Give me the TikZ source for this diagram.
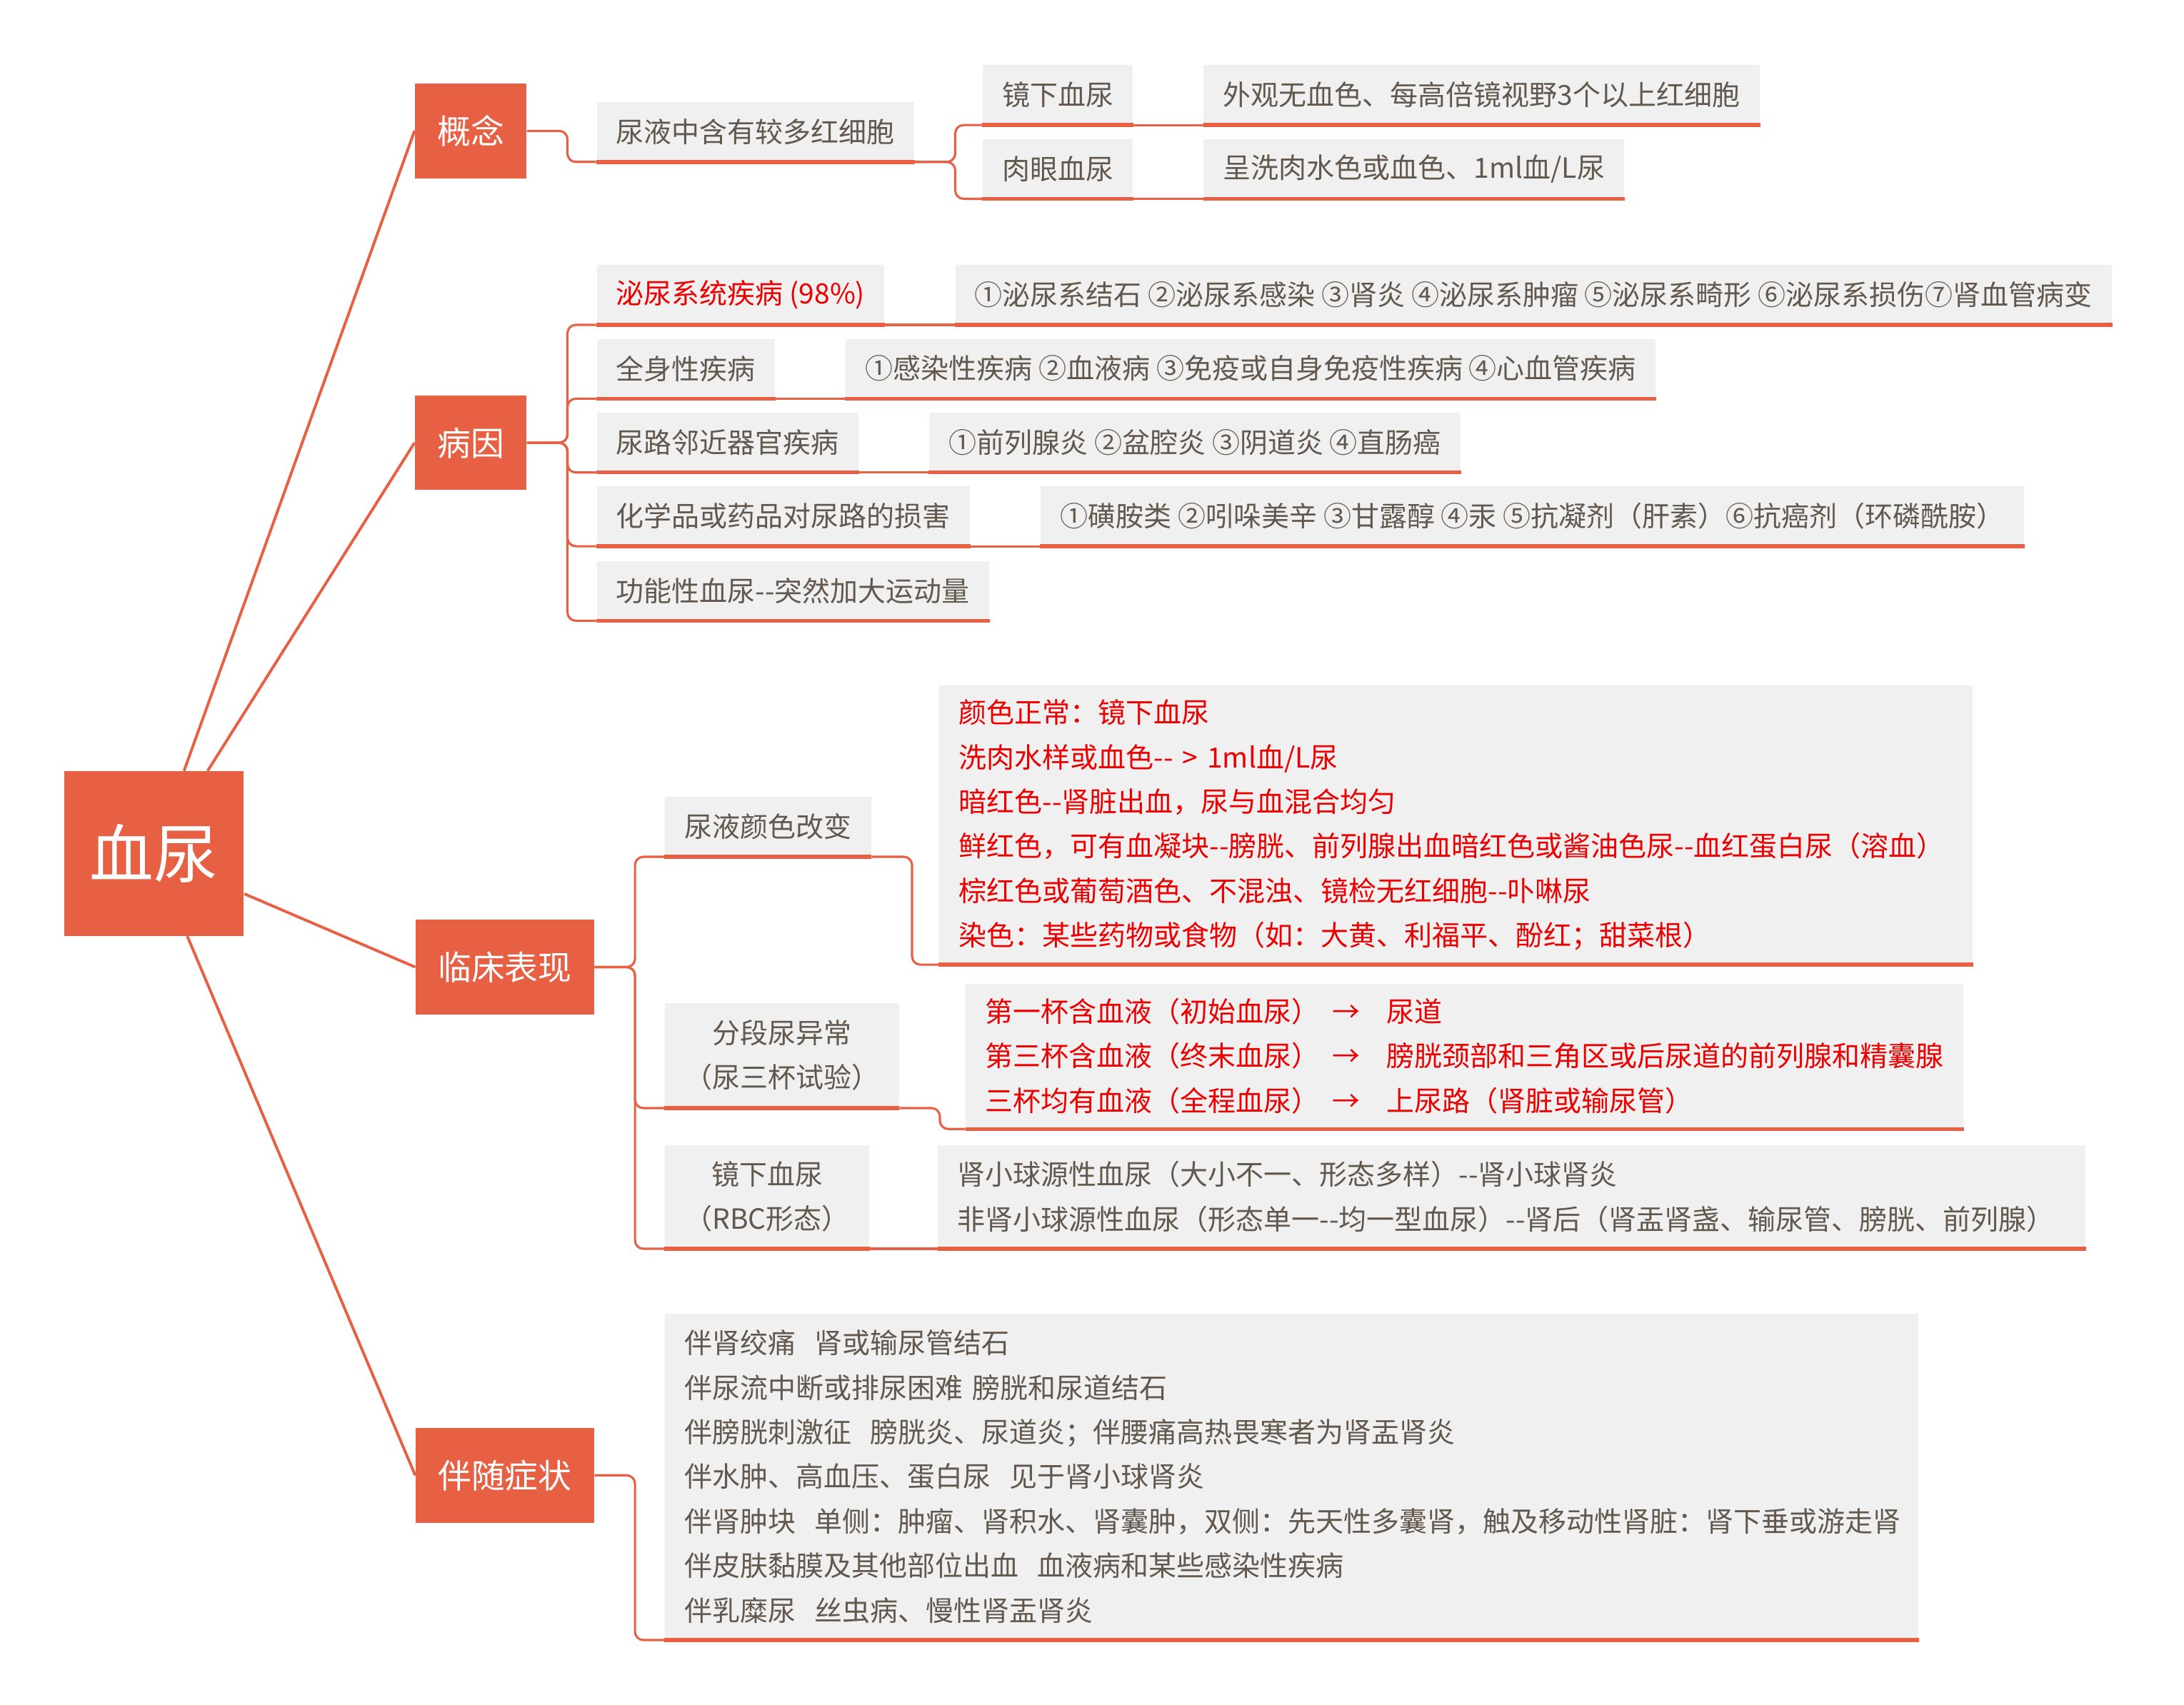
\documentclass[tikz,border=0pt]{standalone}
\usepackage{fontspec}
\newfontfamily\cjk{Noto Sans CJK SC}
\usepackage{tikz}
\usetikzlibrary{positioning}
\definecolor{mapred}{RGB}{232,96,67}
\definecolor{leafgray}{RGB}{240,240,240}
\definecolor{leaftext}{RGB}{98,88,78}
\definecolor{hotred}{RGB}{236,0,0}
\tikzset{
  rootbox/.style={fill=mapred,text=white,font=\cjk\fontsize{23}{26}\selectfont,minimum width=64.5pt,minimum height=59pt,inner sep=0pt},
  topicbox/.style={fill=mapred,text=white,font=\cjk\fontsize{12}{14}\selectfont,minimum height=34pt,inner xsep=8pt,inner ysep=0pt},
  leaf/.style={fill=leafgray,text=leaftext,font=\cjk\fontsize{10}{16}\selectfont,minimum height=21.25pt,inner xsep=7pt,inner ysep=0pt,anchor=north west},
  redleaf/.style={leaf,text=hotred},
  trunk/.style={draw=mapred,line width=1pt},
  link/.style={draw=mapred,line width=0.8pt,rounded corners=3pt},
  uline/.style={draw=mapred,line width=1.4pt}
}
\newcommand{\goesto}{\kern4.5pt→\kern9.5pt}

\begin{document}
\begin{tikzpicture}[x=0.5pt,y=-0.5pt]
\useasboundingbox (0,0) rectangle (1568,1224);
% centre and main branches
\node[rootbox] (root) at (110.5,613) {血尿};
\node[topicbox] (concept) at (338,94) {概念};
\node[topicbox] (cause) at (338,318) {病因};
\node[topicbox] (clinic) at (362.5,694.5) {临床表现};
\node[topicbox] (symptom) at (362.5,1059.5) {伴随症状};
\draw[trunk] (root.70) -- (concept.west);
\draw[trunk] (root.57) -- (cause.west);
\draw[trunk] (root.-24) -- (clinic.west);
\draw[trunk] (root.-68) -- (symptom.west);

% 概念
\node[leaf] (defn) at (428,73) {尿液中含有较多红细胞};
\node[leaf] (micro) at (705,46.5) {镜下血尿};
\node[leaf,right=25pt of micro] (microl) {外观无血色、每高倍镜视野3个以上红细胞};
\node[leaf] (gross) at (705,99.5) {肉眼血尿};
\node[leaf,right=25pt of gross] (grossl) {呈洗肉水色或血色、1ml血/L尿};
\draw[link] (concept.east) -- ++(14.5pt,0) |- (defn.south west);
\draw[link] (defn.south east) -- ++(14.5pt,0) |- (micro.south west);
\draw[link] (defn.south east) -- ++(14.5pt,0) |- (gross.south west);
\draw[link] (micro.south east) -- (microl.south west);
\draw[link] (gross.south east) -- (grossl.south west);

% 病因
\node[redleaf] (urosys) at (428,190) {泌尿系统疾病 (98\%)};
\node[leaf,right=25pt of urosys] (urosysl) {①泌尿系结石 ②泌尿系感染 ③肾炎 ④泌尿系肿瘤 ⑤泌尿系畸形 ⑥泌尿系损伤⑦肾血管病变};
\node[leaf] (general) at (428,243) {全身性疾病};
\node[leaf,right=25pt of general] (generall) {①感染性疾病 ②血液病 ③免疫或自身免疫性疾病 ④心血管疾病};
\node[leaf] (nearby) at (428,296) {尿路邻近器官疾病};
\node[leaf,right=25pt of nearby] (nearbyl) {①前列腺炎 ②盆腔炎 ③阴道炎 ④直肠癌};
\node[leaf] (drug) at (428,349) {化学品或药品对尿路的损害};
\node[leaf,right=25pt of drug] (drugl) {①磺胺类 ②吲哚美辛 ③甘露醇 ④汞 ⑤抗凝剂（肝素）⑥抗癌剂（环磷酰胺）};
\node[leaf] (sport) at (428,402.5) {功能性血尿-{}-突然加大运动量};
\foreach \c in {urosys,general,nearby,drug,sport}
  \draw[link] (cause.east) -- ++(14.5pt,0) |- (\c.south west);
\foreach \c in {urosys,general,nearby,drug}
  \draw[link] (\c.south east) -- (\c l.south west);

% 临床表现
\node[leaf] (tint) at (477,572) {尿液颜色改变};
\node[redleaf,align=left,text width=357pt,minimum height=100pt] (tintl) at (674,492) {颜色正常：镜下血尿\\
洗肉水样或血色-{}- > 1ml血/L尿\\
暗红色-{}-肾脏出血，尿与血混合均匀\\
鲜红色，可有血凝块-{}-膀胱、前列腺出血暗红色或酱油色尿-{}-血红蛋白尿（溶血）\\
棕红色或葡萄酒色、不混浊、镜检无红细胞-{}-卟啉尿\\
染色：某些药物或食物（如：大黄、利福平、酚红；甜菜根）};
\node[leaf,align=center,minimum width=83.5pt,minimum height=37.5pt] (cups) at (477,720) {分段尿异常\\（尿三杯试验）};
\node[redleaf,align=left,text width=344pt,minimum height=52pt] (cupsl) at (693,706) {第一杯含血液（初始血尿）\goesto 尿道\\
第三杯含血液（终末血尿）\goesto 膀胱颈部和三角区或后尿道的前列腺和精囊腺\\
三杯均有血液（全程血尿）\goesto 上尿路（肾脏或输尿管）};
\node[leaf,align=center,minimum width=73pt,minimum height=37pt] (rbc) at (477,822) {镜下血尿\\（RBC形态）};
\node[leaf,align=left,text width=398pt,minimum height=37pt] (rbcl) at (673,822) {肾小球源性血尿（大小不一、形态多样）-{}-肾小球肾炎\\
非肾小球源性血尿（形态单一-{}-均一型血尿）-{}-肾后（肾盂肾盏、输尿管、膀胱、前列腺）};
\foreach \c in {tint,cups,rbc}
  \draw[link] (clinic.east) -- ++(14.5pt,0) |- (\c.south west);
\draw[link] (tint.south east) -- ++(14.5pt,0) |- (tintl.south west);
\draw[link] (cups.south east) -- ++(14.5pt,0) |- (cupsl.south west);
\draw[link] (rbc.south east) -- (rbcl.south west);

% 伴随症状
\node[leaf,align=left,text width=436pt,minimum height=117pt] (signs) at (477,943) {伴肾绞痛~~肾或输尿管结石\\
伴尿流中断或排尿困难~膀胱和尿道结石\\
伴膀胱刺激征~~膀胱炎、尿道炎；伴腰痛高热畏寒者为肾盂肾炎\\
伴水肿、高血压、蛋白尿~~见于肾小球肾炎\\
伴肾肿块~~单侧：肿瘤、肾积水、肾囊肿，双侧：先天性多囊肾，触及移动性肾脏：肾下垂或游走肾\\
伴皮肤黏膜及其他部位出血~~血液病和某些感染性疾病\\
伴乳糜尿~~丝虫病、慢性肾盂肾炎};
\draw[link] (symptom.east) -- ++(14.5pt,0) |- (signs.south west);

% orange underline under every grey box
\foreach \n in {defn,micro,microl,gross,grossl,urosys,urosysl,general,generall,nearby,nearbyl,drug,drugl,sport,tint,tintl,cups,cupsl,rbc,rbcl,signs}
  \draw[uline] (\n.south west) -- (\n.south east);
\end{tikzpicture}
\end{document}
